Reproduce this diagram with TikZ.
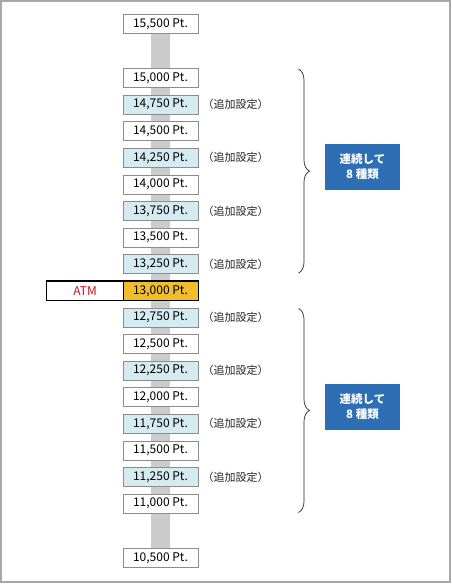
\documentclass[tikz,border=0pt]{standalone}
\usepackage{fontspec}
\setmainfont{Noto Sans CJK JP}
\usetikzlibrary{decorations.pathreplacing,calc}
\definecolor{frame}{HTML}{A8A8A8}
\definecolor{bar}{HTML}{CCCCCC}
\definecolor{lblue}{HTML}{D4EBF2}
\definecolor{gold}{HTML}{F0BE2C}
\definecolor{atmred}{HTML}{C0141E}
\definecolor{tagblue}{HTML}{2E6EB5}
\definecolor{boxline}{HTML}{8C8C8C}
\begin{document}
\begin{tikzpicture}[x=1pt,y=-1pt,
  every node/.style={font=\fontsize{12}{13}\selectfont},
  lvl/.style={draw=boxline,line width=0.8pt,fill=white,minimum width=75pt,minimum height=19pt,inner sep=0pt,anchor=center},
  addl/.style={lvl,fill=lblue},
  note/.style={font=\fontsize{11}{12}\selectfont,text=black!85,anchor=west,inner sep=0pt},
  tag/.style={fill=tagblue,text=white,minimum width=75pt,minimum height=46pt,inner sep=0pt,align=center,font=\fontsize{11.5}{15}\selectfont\bfseries},
  bracestyle/.style={decorate,decoration={brace,amplitude=11pt},line width=0.7pt,draw=black!85}
]
\useasboundingbox (0,0) rectangle (452,584);
\fill[white] (0,0) rectangle (452,584);
\draw[frame,line width=1.5pt] (1,1) rectangle (450,582);
% bar
\fill[bar] (151,24) rectangle (170,558);
% levels
\node[lvl] (r0) at (160.5,24) {15,500 Pt.};
\foreach \i/\t/\k in {1/{15,000}/lvl,2/{14,750}/addl,3/{14,500}/lvl,4/{14,250}/addl,5/{14,000}/lvl,6/{13,750}/addl,7/{13,500}/lvl,8/{13,250}/addl,10/{12,750}/addl,11/{12,500}/lvl,12/{12,250}/addl,13/{12,000}/lvl,14/{11,750}/addl,15/{11,500}/lvl,16/{11,250}/addl,17/{11,000}/lvl}{
  \node[\k] (r\i) at (160.5,{78+26.6*(\i-1)}) {\t\ Pt.};
}
\node[lvl] (r18) at (160.5,558) {10,500 Pt.};
% ATM row
\node[lvl,fill=gold,draw=none] (r9) at (160.5,{78+26.6*8}) {13,000 Pt.};
\node[lvl,draw=none,minimum width=76pt] (atm) at (85,{78+26.6*8}) {\textcolor{atmred}{ATM}};
\draw[black,line width=1.2pt] (atm.north west) rectangle (r9.south east);
\draw[black,line width=0.8pt] (atm.north east) -- (atm.south east);
% notes
\foreach \i in {2,4,6,8,10,12,14,16}{
  \node[note] (n\i) at ([xshift=4pt]r\i.east) {（追加設定）};
}
% braces
\coordinate (b1t) at ($(r1.north)+(138,1)$);
\coordinate (b1b) at ($(r8.south)+(138,-1)$);
\coordinate (b2t) at ($(r10.north)+(138,1)$);
\coordinate (b2b) at ($(r17.south)+(138,-1)$);
\draw[bracestyle] (b1t) -- (b1b);
\draw[bracestyle] (b2t) -- (b2b);
% tags
\node[tag] (t1) at (362.5,167) {連続して\\8 種類};
\node[tag] (t2) at (362.5,407) {連続して\\8 種類};
\end{tikzpicture}
\end{document}
